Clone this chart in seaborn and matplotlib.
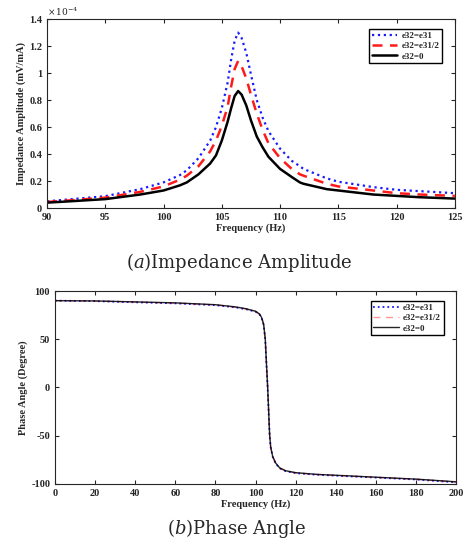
import numpy as np
import pandas as pd
import matplotlib
matplotlib.use("Agg")
import matplotlib.pyplot as plt
import seaborn as sns

# ---- data: amplitude (x1e-4 mV/mA) ----
freq_a = [90, 92, 95, 98, 100, 101.4, 102, 103, 104, 104.5, 105, 105.5, 105.8, 106.1, 106.4,
          106.7, 107.1, 107.5, 108, 108.5, 109, 110, 111, 111.7, 112, 114, 115, 118, 120, 122, 125]
amp_e31 = [0.05, 0.065, 0.088, 0.14, 0.19, 0.244, 0.28, 0.37, 0.50, 0.60, 0.74, 0.93, 1.10, 1.24, 1.30,
           1.26, 1.15, 0.99, 0.80, 0.67, 0.57, 0.44, 0.35, 0.31, 0.29, 0.22, 0.195, 0.155, 0.135, 0.125, 0.11]
amp_e31h = [0.045, 0.057, 0.077, 0.12, 0.16, 0.21, 0.24, 0.31, 0.42, 0.50, 0.61, 0.75, 0.90, 1.03, 1.09,
            1.05, 0.96, 0.84, 0.70, 0.58, 0.48, 0.37, 0.29, 0.25, 0.24, 0.18, 0.16, 0.13, 0.11, 0.10, 0.09]
amp_zero = [0.04, 0.05, 0.066, 0.10, 0.13, 0.168, 0.19, 0.25, 0.33, 0.39, 0.50, 0.64, 0.74, 0.83, 0.867,
            0.84, 0.76, 0.65, 0.53, 0.45, 0.38, 0.29, 0.23, 0.19, 0.18, 0.14, 0.13, 0.10, 0.09, 0.08, 0.07]

# ---- data: phase angle (degree) ----
freq_p = [0, 20, 40, 60, 80, 90, 95, 100, 102, 103, 104, 104.8, 105.5, 106, 106.5, 107, 107.5,
          108.5, 110, 112, 115, 120, 130, 140, 160, 180, 200]
ph_e31 = [90, 89.5, 88.3, 87.2, 85.3, 83, 81.2, 78.5, 75.5, 72, 65, 50, 20, 0, -25, -50, -62,
          -72, -79, -84, -87, -89, -90.6, -91.6, -93.6, -95.6, -98.5]
ph_e31h = [90, 89.6, 88.5, 87.4, 85.5, 83.2, 81.4, 78.8, 75.8, 72.3, 65.3, 50.3, 20.5, 0.3, -24.7, -49.8, -61.8,
           -71.8, -78.8, -83.8, -86.8, -88.8, -90.4, -91.4, -93.4, -95.4, -98.2]
ph_zero = [90, 89.7, 88.7, 87.7, 85.8, 83.5, 81.7, 79.0, 76.0, 72.5, 65.5, 50.5, 21, 0.5, -24.5, -49.5, -61.5,
           -71.5, -78.5, -83.5, -86.5, -88.5, -90.2, -91.2, -93.2, -95.2, -98]

labels = ["e32=e31", "e32=e31/2", "e32=0"]

df_a = pd.concat([
    pd.DataFrame({"f": freq_a, "v": np.array(a) * 1e-4, "case": l})
    for a, l in zip([amp_e31, amp_e31h, amp_zero], labels)])
df_p = pd.concat([
    pd.DataFrame({"f": freq_p, "v": p, "case": l})
    for p, l in zip([ph_e31, ph_e31h, ph_zero], labels)])

sns.set_style("ticks")
plt.rcParams["font.family"] = ["Liberation Serif", "DejaVu Serif"]
plt.rcParams["font.weight"] = "normal"
plt.rcParams["mathtext.fontset"] = "dejavuserif"

fig = plt.figure(figsize=(4.66, 5.46), dpi=100)
ax1 = fig.add_axes([0.101, 0.619, 0.875, 0.346])
ax2 = fig.add_axes([0.118, 0.114, 0.861, 0.353])

pal = {"e32=e31": "#1a1aff", "e32=e31/2": "#ff1a1a", "e32=0": "black"}
leg_font = {"family": ["Liberation Serif"], "weight": "bold", "size": 6.5}

sns.lineplot(data=df_a, x="f", y="v", hue="case", palette=pal, ax=ax1, sort=False,
             estimator=None, legend=False)
styles_a = [(":", 1.6), ((0, (4, 3)), 1.8), ("-", 1.8)]
for line, (ls, lw) in zip(ax1.get_lines(), styles_a):
    line.set_linestyle(ls)
    line.set_linewidth(lw)
ax1.legend(ax1.get_lines()[:3], labels, loc="upper right", prop=leg_font,
           frameon=True, fancybox=False, edgecolor="black", framealpha=1,
           handlelength=2.8, handletextpad=0.5, borderpad=0.3, labelspacing=0.2,
           bbox_to_anchor=(0.98, 0.97))

sns.lineplot(data=df_p, x="f", y="v", hue="case", palette=pal, ax=ax2, sort=False,
             estimator=None, legend=False)
styles_p = [(":", 1.3, 1.0), ((0, (5, 4)), 1.0, 0.45), ("-", 1.0, 0.85)]
for line, (ls, lw, al) in zip(ax2.get_lines(), styles_p):
    line.set_linestyle(ls)
    line.set_linewidth(lw)
    line.set_alpha(al)
ax2.legend(ax2.get_lines()[:3], labels, loc="upper right", prop=leg_font,
           frameon=True, fancybox=False, edgecolor="black", framealpha=1,
           handlelength=2.8, handletextpad=0.5, borderpad=0.3, labelspacing=0.2,
           bbox_to_anchor=(0.98, 0.97))

for ax in (ax1, ax2):
    ax.tick_params(direction="in", top=True, right=True, labelsize=7.5, length=3, width=0.8)
    for s in ax.spines.values():
        s.set_visible(True)
        s.set_linewidth(0.8)

xt1 = [90, 95, 100, 105, 110, 115, 120, 125]
ax1.set_xlim(90, 125)
ax1.set_ylim(0, 1.4e-4)
ax1.set_xticks(xt1)
ax1.set_xticklabels([str(v) for v in xt1], fontweight="bold")
ax1.set_yticks(np.arange(0, 1.41e-4, 0.2e-4))
ax1.set_yticklabels(["0", "0.2", "0.4", "0.6", "0.8", "1", "1.2", "1.4"], fontweight="bold")
ax1.text(0.0, 1.005, r"$\times\,10^{-4}$", transform=ax1.transAxes, fontsize=6.5,
         ha="left", va="bottom")
ax1.set_xlabel("Frequency (Hz)", fontsize=7.5, fontweight="bold", labelpad=1)
ax1.set_ylabel("Impedance Amplitude (mV/mA)", fontsize=7.5, fontweight="bold", labelpad=2)

ax2.set_xlim(0, 200)
ax2.set_ylim(-100, 100)
ax2.set_xticks(range(0, 201, 20))
ax2.set_xticklabels([str(v) for v in range(0, 201, 20)], fontweight="bold")
ax2.set_yticks([-100, -50, 0, 50, 100])
ax2.set_yticklabels(["-100", "-50", "0", "50", "100"], fontweight="bold")
ax2.set_xlabel("Frequency (Hz)", fontsize=7.5, fontweight="bold", labelpad=1)
ax2.set_ylabel("Phase Angle (Degree)", fontsize=7.5, fontweight="bold", labelpad=2)

fig.text(0.513, 1 - 262 / 546, r"($\mathit{a}$)Impedance Amplitude", fontsize=13,
         ha="center", va="center", family=["DejaVu Serif"])
fig.text(0.508, 1 - 528 / 546, r"($\mathit{b}$)Phase Angle", fontsize=13,
         ha="center", va="center", family=["DejaVu Serif"])

fig.savefig("out.png", dpi=100)
